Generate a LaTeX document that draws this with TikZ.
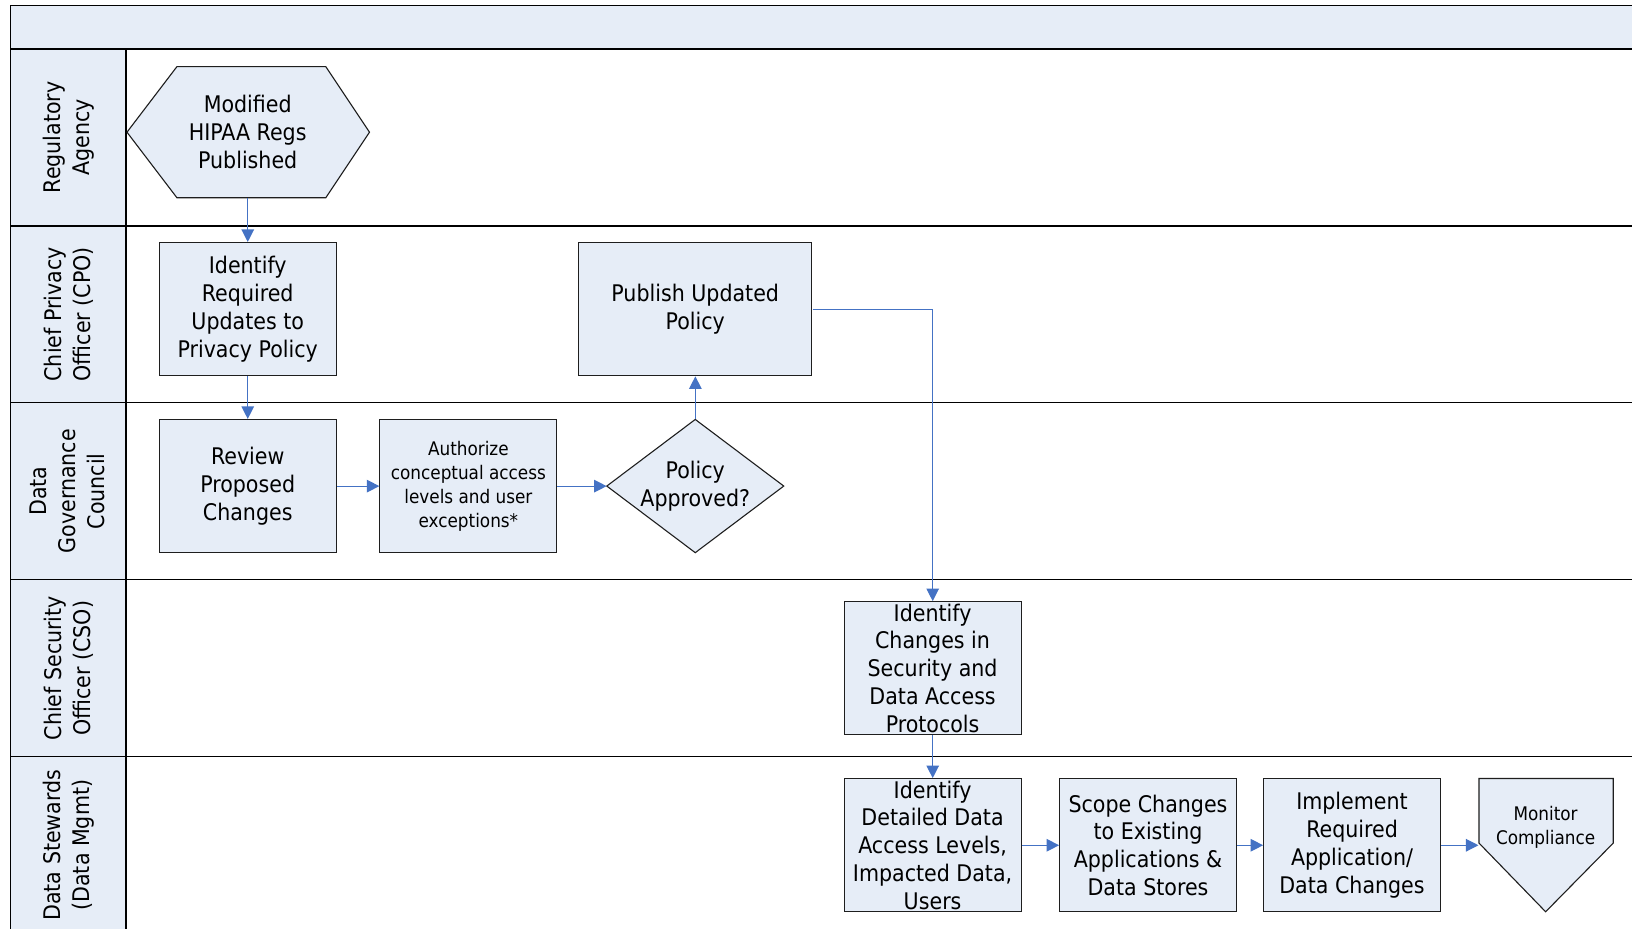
\documentclass[tikz,border=0pt]{standalone}
\usepackage{fontspec}
\setmainfont{DejaVu Sans Condensed}
\usetikzlibrary{arrows.meta}
\definecolor{boxfill}{RGB}{230,237,247}
\definecolor{arrowblue}{RGB}{68,114,196}
\definecolor{edgegray}{RGB}{30,30,30}
\begin{document}
\begin{tikzpicture}[x=1pt,y=-1pt,scale=1.0408,every node/.style={transform shape},
  shapefill/.style={draw=edgegray, line width=1.1pt, fill=boxfill},
  stepbox/.style={shapefill, minimum width=170pt, minimum height=128pt, inner sep=0pt, align=center, font=\fontsize{22}{26.7}\selectfont},
  txt/.style={inner sep=0pt, align=center, font=\fontsize{22}{27}\selectfont},
  smalltxt/.style={inner sep=0pt, align=center, font=\fontsize{18}{23}\selectfont},
  lanelabel/.style={rotate=90, inner sep=0pt, align=center, font=\fontsize{22}{28}\selectfont},
  laneline/.style={draw=black, line width=1.3pt},
  conn/.style={draw=arrowblue, line width=1.2pt, -{Triangle[length=12.5pt,width=12.5pt]}}
]
\useasboundingbox (0,0) rectangle (1568,893);
\fill[white] (0,0) rectangle (1568,893);
% header band and lane label column
\fill[boxfill] (10,5) rectangle (1568,47);
\fill[boxfill] (10,47) rectangle (121,893);
% lane lines
\draw[laneline] (10,5) -- (1568,5);
\foreach \yy in {47,217,387,557,727} { \draw[laneline] (10,\yy) -- (1568,\yy); }
\draw[laneline] (10,5) -- (10,893);
\draw[laneline] (121,47) -- (121,893);
% lane labels
\node[lanelabel] (l1) at (66,132) {Regulatory\\Agency};
\node[lanelabel] (l2) at (66,302) {Chief Privacy\\Officer (CPO)};
\node[lanelabel] (l3) at (65,472) {Data\\Governance\\Council};
\node[lanelabel] (l4) at (66,642) {Chief Security\\Officer (CSO)};
\node[lanelabel] (l5) at (66,812) {Data Stewards\\(Data Mgmt)};
% hexagon
\path[shapefill] (122,127) -- (170,64) -- (313,64) -- (355,127) -- (313,190) -- (170,190) -- cycle;
\node[txt, minimum width=233pt, minimum height=126pt] (hex) at (238,127) {Modified\\HIPAA Regs\\Published};
% boxes
\node[stepbox] (idr) at (238,297) {Identify\\Required\\Updates to\\Privacy Policy};
\node[stepbox, minimum width=224pt] (pub) at (668,297) {Publish Updated\\Policy};
\node[stepbox] (rev) at (238,467) {Review\\Proposed\\Changes};
\node[stepbox, font=\fontsize{18}{23}\selectfont] (aut) at (450,467) {Authorize\\conceptual access\\levels and user\\exceptions*};
% diamond
\path[shapefill] (583,467) -- (668,403) -- (753,467) -- (668,531) -- cycle;
\node[txt, minimum width=170pt, minimum height=128pt] (dec) at (668,467) {Policy\\Approved?};
\node[stepbox] (idc) at (896,642) {Identify\\Changes in\\Security and\\Data Access\\Protocols};
\node[stepbox] (idd) at (896,812) {Identify\\Detailed Data\\Access Levels,\\Impacted Data,\\Users};
\node[stepbox] (scp) at (1103,812) {Scope Changes\\to Existing\\Applications \&\\Data Stores};
\node[stepbox] (imp) at (1299,812) {Implement\\Required\\Application/\\Data Changes};
% off-page connector
\path[shapefill] (1421,748) -- (1550,748) -- (1550,810) -- (1485,876) -- (1421,810) -- cycle;
\node[smalltxt, minimum width=129pt, minimum height=128pt] (mon) at (1485,812) {};
\node[smalltxt] (montxt) at (1485,795) {Monitor\\Compliance};
% connectors
\draw[conn] (hex.south) -- (idr.north);
\draw[conn] (idr.south) -- (rev.north);
\draw[conn] (rev.east) -- (aut.west);
\draw[conn] (aut.east) -- (dec.west);
\draw[conn] (dec.north) -- (pub.south);
\draw[conn, line width=1pt] (pub.east) -| (idc.north);
\draw[conn] (idc.south) -- (idd.north);
\draw[conn] (idd.east) -- (scp.west);
\draw[conn] (scp.east) -- (imp.west);
\draw[conn] (imp.east) -- (mon.west);
\end{tikzpicture}
\end{document}
